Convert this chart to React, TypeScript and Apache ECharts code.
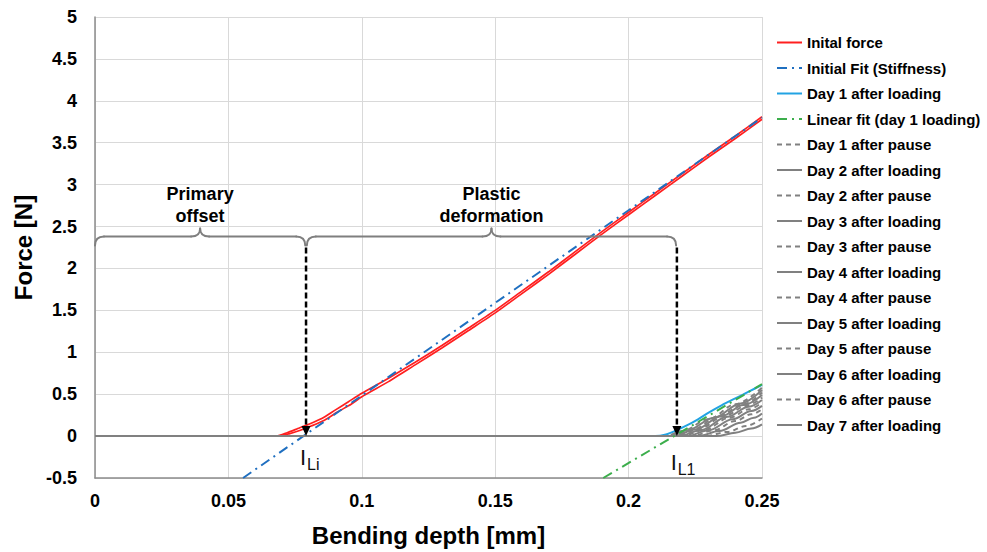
import React, { useEffect, useRef } from "react";
import * as echarts from "echarts";

const FONT = "'Liberation Sans', Arial, Helvetica, sans-serif";

// ---- axis setup ----
const X_MIN = 0;
const X_MAX = 0.25;
const X_STEP = 0.05;
const Y_MIN = -0.5;
const Y_MAX = 5;
const Y_STEP = 0.5;

// ---- series data [bending depth mm, force N] ----
const initialForceA: number[][] = [
  [0, 0], [0.068, 0], [0.072, 0.04], [0.076, 0.09], [0.08, 0.14], [0.085, 0.21],
  [0.09, 0.31], [0.095, 0.41], [0.1, 0.51], [0.11, 0.69], [0.12, 0.88], [0.13, 1.08],
  [0.14, 1.29], [0.15, 1.5], [0.16, 1.73], [0.17, 1.96], [0.18, 2.2], [0.19, 2.44],
  [0.2, 2.67], [0.21, 2.9], [0.22, 3.13], [0.23, 3.36], [0.24, 3.58], [0.25, 3.81],
];
const initialForceB: number[][] = [
  [0, 0], [0.069, 0], [0.073, 0.03], [0.077, 0.07], [0.081, 0.12], [0.086, 0.19],
  [0.091, 0.29], [0.096, 0.38], [0.1, 0.47], [0.11, 0.65], [0.12, 0.85], [0.13, 1.05],
  [0.14, 1.26], [0.15, 1.47], [0.16, 1.7], [0.17, 1.93], [0.18, 2.17], [0.19, 2.41],
  [0.2, 2.64], [0.21, 2.87], [0.22, 3.1], [0.23, 3.33], [0.24, 3.55], [0.25, 3.78],
];
const initialFit: number[][] = [[0.0555, -0.5], [0.25, 3.8]];
const day1Loading: number[][] = [
  [0, 0], [0.21, 0], [0.214, 0.02], [0.218, 0.07], [0.222, 0.13], [0.226, 0.2],
  [0.23, 0.28], [0.235, 0.37], [0.24, 0.45], [0.245, 0.53], [0.25, 0.61],
];
const linearFitDay1: number[][] = [[0.1905, -0.5], [0.25, 0.62]];

const day1Pause: number[][] = [[0, 0], [0.214, 0], [0.22, 0.06], [0.23, 0.2], [0.24, 0.38], [0.25, 0.58]];
const day2Loading: number[][] = [[0, 0], [0.215, 0], [0.222, 0.07], [0.232, 0.22], [0.242, 0.39], [0.25, 0.55]];
const day2Pause: number[][] = [[0, 0], [0.216, 0], [0.224, 0.08], [0.234, 0.24], [0.243, 0.38], [0.25, 0.52]];
const day3Loading: number[][] = [[0, 0], [0.217, 0], [0.225, 0.08], [0.235, 0.24], [0.243, 0.37], [0.25, 0.49]];
const day3Pause: number[][] = [[0, 0], [0.218, 0], [0.226, 0.08], [0.236, 0.24], [0.244, 0.36], [0.25, 0.46]];
const day4Loading: number[][] = [[0, 0], [0.219, 0], [0.227, 0.07], [0.237, 0.23], [0.245, 0.35], [0.25, 0.43]];
const day4Pause: number[][] = [[0, 0], [0.22, 0], [0.228, 0.07], [0.238, 0.22], [0.245, 0.32], [0.25, 0.4]];
const day5Loading: number[][] = [[0, 0], [0.222, 0], [0.23, 0.07], [0.239, 0.2], [0.246, 0.3], [0.25, 0.36]];
const day5Pause: number[][] = [[0, 0], [0.224, 0], [0.232, 0.07], [0.24, 0.18], [0.246, 0.26], [0.25, 0.32]];
const day6Loading: number[][] = [[0, 0], [0.226, 0], [0.234, 0.06], [0.242, 0.16], [0.247, 0.22], [0.25, 0.27]];
const day6Pause: number[][] = [[0, 0], [0.229, 0], [0.237, 0.05], [0.244, 0.12], [0.25, 0.21]];
const day7Loading: number[][] = [[0, 0], [0.233, 0], [0.24, 0.04], [0.246, 0.09], [0.25, 0.14]];

const graySeries: { name: string; data: number[][]; dashed: boolean }[] = [
  { name: "Day 1 after pause", data: day1Pause, dashed: true },
  { name: "Day 2 after loading", data: day2Loading, dashed: false },
  { name: "Day 2 after pause", data: day2Pause, dashed: true },
  { name: "Day 3 after loading", data: day3Loading, dashed: false },
  { name: "Day 3 after pause", data: day3Pause, dashed: true },
  { name: "Day 4 after loading", data: day4Loading, dashed: false },
  { name: "Day 4 after pause", data: day4Pause, dashed: true },
  { name: "Day 5 after loading", data: day5Loading, dashed: false },
  { name: "Day 5 after pause", data: day5Pause, dashed: true },
  { name: "Day 6 after loading", data: day6Loading, dashed: false },
  { name: "Day 6 after pause", data: day6Pause, dashed: true },
  { name: "Day 7 after loading", data: day7Loading, dashed: false },
];

const legendNames: string[] = [
  "Inital force",
  "Initial Fit (Stiffness)",
  "Day 1 after loading",
  "Linear fit (day 1 loading)",
  ...graySeries.map((g) => g.name),
];

// ---- annotation anchors (data units) ----
const L_I = 0.0791; // I_Li
const L_1 = 0.2181; // I_L1
const BRACE_Y = 2.38;
const ARROW_TOP = 2.25;
const braces: { from: number; to: number; lines: string[] }[] = [
  { from: 0, to: 0.0788, lines: ["Primary", "offset"] },
  { from: 0.0794, to: 0.2178, lines: ["Plastic", "deformation"] },
];
const LABEL_Y = 2.76;

export default function App() {
  const ref = useRef<HTMLDivElement>(null);

  useEffect(() => {
    document.body.style.margin = "0";
    if (!ref.current) return;
    const chart = echarts.init(ref.current, undefined, { renderer: "svg" });

    const GRAY = "#808080";

    const series: any[] = [
      {
        name: "Inital force",
        type: "line",
        data: initialForceA,
        showSymbol: false,
        symbol: "none",
        smooth: 0.2,
        lineStyle: { color: "#ff1f1f", width: 1.7 },
        itemStyle: { color: "#ff1f1f" },
        z: 2,
      },
      {
        name: "Inital force",
        type: "line",
        data: initialForceB,
        showSymbol: false,
        symbol: "none",
        smooth: 0.2,
        lineStyle: { color: "#ff1f1f", width: 1.7 },
        itemStyle: { color: "#ff1f1f" },
        z: 2,
      },
      {
        name: "Initial Fit (Stiffness)",
        type: "line",
        data: initialFit,
        showSymbol: false,
        symbol: "none",
        lineStyle: { color: "#1f6fc0", width: 2, type: [10, 5, 2, 5] },
        itemStyle: { color: "#1f6fc0" },
        z: 3,
      },
      {
        name: "Day 1 after loading",
        type: "line",
        data: day1Loading,
        showSymbol: false,
        symbol: "none",
        smooth: 0.3,
        lineStyle: { color: "#22a3e3", width: 2 },
        itemStyle: { color: "#22a3e3" },
        z: 2,
      },
      ...graySeries.map((g) => ({
        name: g.name,
        type: "line",
        data: g.data,
        showSymbol: false,
        symbol: "none",
        smooth: 0.35,
        smoothMonotone: "x",
        lineStyle: { color: GRAY, width: 2, type: g.dashed ? [5, 4] : "solid" },
        itemStyle: { color: GRAY },
        z: 4,
      })),
      {
        name: "Linear fit (day 1 loading)",
        type: "line",
        data: linearFitDay1,
        showSymbol: false,
        symbol: "none",
        lineStyle: { color: "#3cae4c", width: 2, type: [10, 5, 2, 5] },
        itemStyle: { color: "#3cae4c" },
        z: 5,
      },
      {
        type: "custom",
        coordinateSystem: "cartesian2d",
        data: [[0, 0]],
        encode: { x: 0, y: 1 },
        clip: false,
        silent: true,
        z: 10,
        renderItem: (_params: any, api: any) => {
          const P = (x: number, y: number) => api.coord([x, y]);
          const children: any[] = [];
          const braceStyle = { stroke: "#7f7f7f", lineWidth: 2, fill: "none", lineCap: "round" };
          braces.forEach((b) => {
            const [x1, y] = P(b.from, BRACE_Y);
            const [x2] = P(b.to, BRACE_Y);
            const xm = (x1 + x2) / 2;
            const r = 9;
            const seg = (shape: any, type = "bezierCurve") =>
              children.push({ type, shape, style: { ...braceStyle } });
            seg({ x1: x1, y1: y + r, cpx1: x1, cpy1: y, x2: x1 + r, y2: y });
            seg({ x1: x1 + r, y1: y, x2: xm - r, y2: y }, "line");
            seg({ x1: xm - r, y1: y, cpx1: xm, cpy1: y, x2: xm, y2: y - r + 1 });
            seg({ x1: xm, y1: y - r + 1, cpx1: xm, cpy1: y, x2: xm + r, y2: y });
            seg({ x1: xm + r, y1: y, x2: x2 - r, y2: y }, "line");
            seg({ x1: x2 - r, y1: y, cpx1: x2, cpy1: y, x2: x2, y2: y + r });
            const [, ty] = P(0, LABEL_Y);
            children.push({
              type: "text",
              x: xm,
              y: ty,
              style: {
                text: b.lines.join("\n"),
                font: `bold 18px ${FONT}`,
                fill: "#000",
                align: "center",
                verticalAlign: "middle",
                lineHeight: 22,
              },
            });
          });
          [L_I, L_1].forEach((lx) => {
            const [ax, ay0] = P(lx, ARROW_TOP);
            const [, ay1] = P(lx, 0);
            children.push({
              type: "line",
              shape: { x1: ax, y1: ay0, x2: ax, y2: ay1 - 9 },
              style: { stroke: "#000", lineWidth: 2.5, lineDash: [6, 3] },
            });
            children.push({
              type: "polygon",
              shape: { points: [[ax - 4.5, ay1 - 10], [ax + 4.5, ay1 - 10], [ax, ay1]] },
              style: { fill: "#000" },
            });
          });
          const subLabels = [
            { x: 0.078, y: -0.25, sub: "Li" },
            { x: 0.2169, y: -0.31, sub: "L1" },
          ];
          subLabels.forEach((s) => {
            const [px, py] = P(s.x, s.y);
            children.push({
              type: "text",
              x: px,
              y: py,
              style: {
                text: "I",
                font: `22px ${FONT}`,
                fill: "#111",
                align: "center",
                verticalAlign: "middle",
              },
            });
            children.push({
              type: "text",
              x: px + 4,
              y: py + 7,
              style: {
                text: s.sub,
                font: `16px ${FONT}`,
                fill: "#111",
                align: "left",
                verticalAlign: "middle",
              },
            });
          });
          return { type: "group", children };
        },
      },
    ];

    chart.setOption({
      animation: false,
      backgroundColor: "#fff",
      grid: { left: 95, right: 225, top: 17, bottom: 74, containLabel: false },
      legend: {
        data: legendNames,
        orient: "vertical",
        left: 776,
        top: 35,
        padding: 0,
        itemWidth: 25,
        itemHeight: 14,
        itemGap: 10.5,
        itemStyle: { opacity: 0 },
        textStyle: { fontFamily: FONT, fontWeight: "bold", fontSize: 15, color: "#000" },
        selectedMode: false,
      },
      xAxis: {
        type: "value",
        min: X_MIN,
        max: X_MAX,
        interval: X_STEP,
        name: "Bending depth [mm]",
        nameLocation: "middle",
        nameGap: 45,
        nameTextStyle: { fontFamily: FONT, fontWeight: "bold", fontSize: 24, color: "#000" },
        axisLine: { show: true, onZero: false, lineStyle: { color: "#8c8c8c", width: 1.5 } },
        axisTick: { show: false },
        axisLabel: {
          fontFamily: FONT,
          fontWeight: "bold",
          fontSize: 18,
          color: "#000",
          margin: 14,
          formatter: (v: number) => String(+v.toFixed(2)),
        },
        splitLine: { show: true, lineStyle: { color: "#d9d9d9", width: 1 } },
      },
      yAxis: {
        type: "value",
        min: Y_MIN,
        max: Y_MAX,
        interval: Y_STEP,
        name: "Force [N]",
        nameLocation: "middle",
        nameGap: 55,
        nameRotate: 90,
        nameTextStyle: { fontFamily: FONT, fontWeight: "bold", fontSize: 24, color: "#000" },
        axisLine: { show: true, onZero: false, lineStyle: { color: "#8c8c8c", width: 1.5 } },
        axisTick: { show: false },
        axisLabel: {
          fontFamily: FONT,
          fontWeight: "bold",
          fontSize: 18,
          color: "#000",
          margin: 18,
          formatter: (v: number) => String(+v.toFixed(2)),
        },
        splitLine: { show: true, lineStyle: { color: "#d9d9d9", width: 1 } },
      },
      series,
    });

    return () => chart.dispose();
  }, []);

  return <div ref={ref} style={{ width: 987, height: 552 }} />;
}
